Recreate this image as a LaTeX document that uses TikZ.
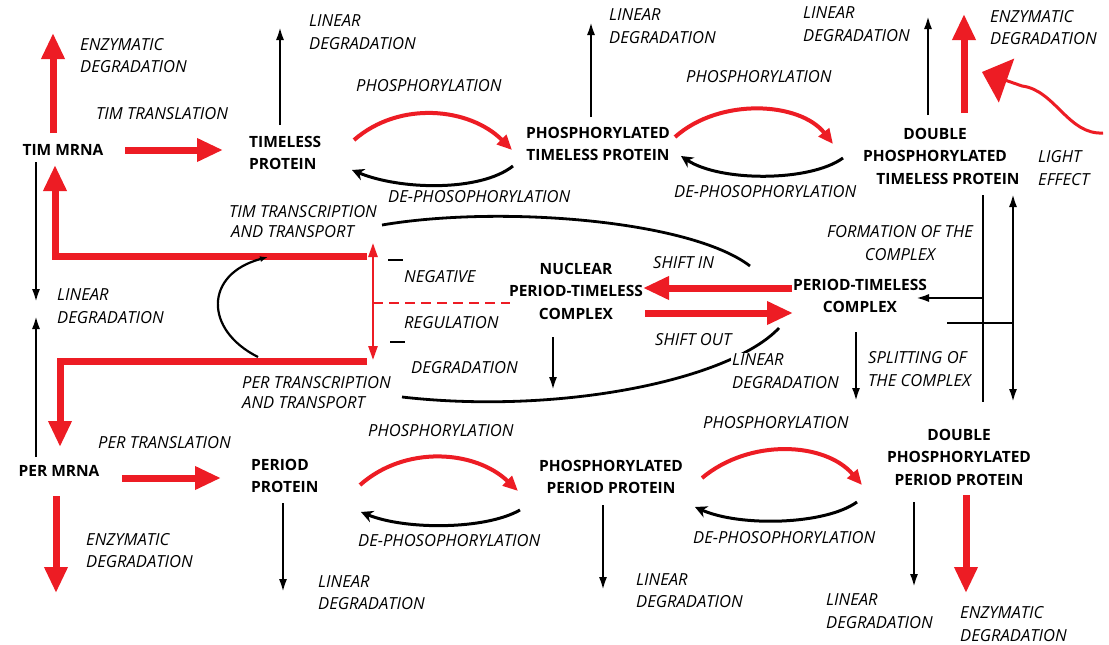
\documentclass[tikz,border=0pt]{standalone}
\usepackage{fontspec}
\setmainfont{Open Sans}
\usetikzlibrary{arrows.meta}
\definecolor{pred}{HTML}{ED1C24}
\begin{document}
\begin{tikzpicture}[x=1pt,y=-1pt,
 bnode/.style={font=\bfseries\fontsize{15.5}{22.5}\selectfont, inner sep=0pt, align=center},
 lab/.style={font=\itshape\fontsize{16.6}{22.5}\selectfont, inner sep=0pt, align=left, anchor=west},
 labt/.style={font=\itshape\fontsize{16.6}{19.5}\selectfont, inner sep=0pt, align=left, anchor=west},
 bigred/.style={draw=pred, line width=7pt, -{Triangle[length=26pt,width=22pt]}},
 thinarr/.style={draw=black, line width=2.8pt, -{Latex[length=14pt,width=8pt]}},
 phos/.style={draw=pred, line width=4pt, -{Triangle[length=15pt,width=13pt]}},
 dephos/.style={draw=black, line width=3pt, -{Stealth[length=12pt,width=12pt]}},
 plain/.style={draw=black, line width=2.8pt},
]
\useasboundingbox[fill=white] (0,0) rectangle (1109,645);

% ---------- main nodes ----------
\node[bnode] (timm) at (63,150) {TIM MRNA};
\node[bnode, align=left, anchor=west] (timp) at (249,153) {TIMELESS\\PROTEIN};
\node[bnode] (ptim) at (598,144) {PHOSPHORYLATED\\TIMELESS PROTEIN};
\node[bnode] (dptim) at (935,156) {DOUBLE\\PHOSPHORYLATED\\\hspace*{26pt}TIMELESS PROTEIN};
\node[bnode] (nuc) at (576,291) {NUCLEAR\\PERIOD-TIMELESS\\COMPLEX};
\node[bnode] (ptc) at (860,296) {PERIOD-TIMELESS\\COMPLEX};
\node[bnode] (perm) at (59,471) {PER MRNA};
\node[bnode, align=left, anchor=west] (perp) at (251,476) {PERIOD\\PROTEIN};
\node[bnode] (pper) at (611,477) {PHOSPHORYLATED\\PERIOD PROTEIN};
\node[bnode] (dpper) at (959,457) {DOUBLE\\PHOSPHORYLATED\\PERIOD PROTEIN};

% ---------- labels ----------
\node[lab] (enz1) at (80,55.5) {ENZYMATIC\\DEGRADATION};
\node[lab] (timtl) at (96,114) {TIM TRANSLATION};
\node[lab] (lin1) at (309,32) {LINEAR\\DEGRADATION};
\node[lab] (ph1) at (356,86) {PHOSPHORYLATION};
\node[lab] (deph1) at (388,197) {DE-PHOSOPHORYLATION};
\node[lab] (lin2) at (609,26) {LINEAR\\DEGRADATION};
\node[lab] (ph2) at (686,77) {PHOSPHORYLATION};
\node[lab] (deph2) at (674,192) {DE-PHOSOPHORYLATION};
\node[lab] (lin3) at (803,24) {LINEAR\\DEGRADATION};
\node[lab] (enz2) at (990,27.5) {ENZYMATIC\\DEGRADATION};
\node[lab] (light) at (1038,168) {LIGHT\\EFFECT};
\node[labt] (tt) at (229,221.5) {TIM TRANSCRIPTION\\\hspace*{2pt}AND TRANSPORT};
\node[lab] (neg) at (404,277) {NEGATIVE};
\node[lab] (reg) at (404,323) {REGULATION};
\node[lab] (degr) at (411,368) {DEGRADATION};
\node[lab] (shin) at (653,263) {SHIFT IN};
\node[lab] (shout) at (655,340) {SHIFT OUT};
\node[lab, align=center, anchor=center] (form) at (900,243) {FORMATION OF THE\\COMPLEX};
\node[lab] (split) at (868,369) {SPLITTING OF\\THE COMPLEX};
\node[lab] (lin5) at (57,306) {LINEAR\\DEGRADATION};
\node[labt] (pt) at (242,392.5) {PER TRANSCRIPTION\\AND TRANSPORT};
\node[lab] (pertl) at (98,443) {PER TRANSLATION};
\node[lab] (ph3) at (368,431) {PHOSPHORYLATION};
\node[lab] (deph3) at (358,541) {DE-PHOSOPHORYLATION};
\node[lab] (ph4) at (703,423) {PHOSPHORYLATION};
\node[lab] (deph4) at (693,538) {DE-PHOSOPHORYLATION};
\node[lab] (enz3) at (86,550.5) {ENZYMATIC\\DEGRADATION};
\node[lab] (lin6) at (318,592.5) {LINEAR\\DEGRADATION};
\node[lab] (lin7) at (636,590.5) {LINEAR\\DEGRADATION};
\node[lab] (lin8) at (826,611) {LINEAR\\DEGRADATION};
\node[lab] (enz4) at (960,624) {ENZYMATIC\\DEGRADATION};

% ---------- coordinates ----------
\coordinate (a1s) at (53,133);  \coordinate (a1e) at (53,33);
\coordinate (a2s) at (125,150); \coordinate (a2e) at (223,150);
\coordinate (tl0) at (367,256); \coordinate (tl1) at (55,256); \coordinate (tl2) at (55,165);
\coordinate (pl0) at (367,361); \coordinate (pl1) at (60,361); \coordinate (pl2) at (60,447);
\coordinate (a5s) at (122,478); \coordinate (a5e) at (221,478);
\coordinate (a6s) at (56,496);  \coordinate (a6e) at (56,593);
\coordinate (sis) at (792,288); \coordinate (sie) at (643,288);
\coordinate (sos) at (645,313); \coordinate (soe) at (793,313);
\coordinate (a7s) at (964,113); \coordinate (a7e) at (964,14);
\coordinate (a8s) at (966,495); \coordinate (a8e) at (966,593);
\coordinate (b1s) at (280,125); \coordinate (b1e) at (280,26);
\coordinate (b2s) at (591,117); \coordinate (b2e) at (591,21);
\coordinate (b3s) at (928,115); \coordinate (b3e) at (928,15);
\coordinate (l1s) at (36,162);  \coordinate (l1e) at (36,303);
\coordinate (l2s) at (36,457);  \coordinate (l2e) at (36,315);
\coordinate (nds) at (553,337); \coordinate (nde) at (553,391);
\coordinate (pds) at (856,332); \coordinate (pde) at (856,402);
\coordinate (fms) at (983,298); \coordinate (fme) at (915,298);
\coordinate (v1t) at (983,195); \coordinate (v1b) at (983,402);
\coordinate (sps) at (947,323); \coordinate (spe) at (1013,323);
\coordinate (v2t) at (1013,193); \coordinate (v2b) at (1013,403);
\coordinate (b4s) at (283,503); \coordinate (b4e) at (283,593);
\coordinate (b5s) at (603,505); \coordinate (b5e) at (603,591);
\coordinate (b6s) at (914,502); \coordinate (b6e) at (914,588);
\coordinate (rt) at (373,243);  \coordinate (rb) at (373,360);
\coordinate (rm) at (373,303);  \coordinate (rd) at (510,303);
\coordinate (m1s) at (388,260); \coordinate (m1e) at (403,260);
\coordinate (m2s) at (390,342); \coordinate (m2e) at (405,342);
\coordinate (cs) at (258,357);  \coordinate (ce) at (268,257);
\coordinate (us) at (382,225);  \coordinate (ue) at (750,266);
\coordinate (ls) at (402,397);  \coordinate (le) at (779,328);
\coordinate (lgs) at (1103,133); \coordinate (lgm) at (1022,86); \coordinate (lge) at (982,72);

% ---------- thick red arrows ----------
\draw[bigred] (a1s) -- (a1e);
\draw[bigred] (a2s) -- (a2e);
\draw[bigred] (tl0) -- (tl1) -- (tl2);
\draw[bigred] (pl0) -- (pl1) -- (pl2);
\draw[bigred] (a5s) -- (a5e);
\draw[bigred] (a6s) -- (a6e);
\draw[bigred] (sis) -- (sie);
\draw[bigred] (sos) -- (soe);
\draw[bigred] (a7s) -- (a7e);
\draw[bigred] (a8s) -- (a8e);

% ---------- thin black arrows ----------
\draw[thinarr] (b1s) -- (b1e);
\draw[thinarr] (b2s) -- (b2e);
\draw[thinarr] (b3s) -- (b3e);
\draw[thinarr] (l1s) -- (l1e);
\draw[thinarr] (l2s) -- (l2e);
\draw[thinarr] (nds) -- (nde);
\draw[thinarr] (pds) -- (pde);
\draw[thinarr] (fms) -- (fme);
\draw[plain] (v1t) -- (v1b);
\draw[plain] (sps) -- (spe);
\draw[plain, {Latex[length=14pt,width=8pt]}-{Latex[length=14pt,width=8pt]}] (v2t) -- (v2b);
\draw[thinarr] (b4s) -- (b4e);
\draw[thinarr] (b5s) -- (b5e);
\draw[thinarr] (b6s) -- (b6e);

% ---------- phosphorylation cycles ----------
\draw[phos] (354,140) .. controls (400,100) and (470,108) .. (512,150);
\draw[dephos] (513,166) .. controls (480,192) and (400,190) .. (352,170);
\draw[phos] (675,137) .. controls (720,97) and (800,102) .. (833,144);
\draw[dephos] (843,158) .. controls (810,182) and (720,182) .. (681,156);
\draw[phos] (360,485) .. controls (405,445) and (475,450) .. (518,491);
\draw[dephos] (520,510) .. controls (485,530) and (405,530) .. (361,512);
\draw[phos] (702,478) .. controls (750,438) and (825,442) .. (862,485);
\draw[dephos] (857,502) .. controls (825,525) and (740,527) .. (695,507);

% ---------- regulation ----------
\draw[draw=pred, line width=2.5pt, {Triangle[length=14pt,width=9pt]}-{Triangle[length=14pt,width=9pt]}] (rt) -- (rb);
\draw[draw=pred, line width=2.5pt, dash pattern=on 10pt off 6pt] (rm) -- (rd);
\draw[plain] (m1s) -- (m1e);
\draw[plain] (m2s) -- (m2e);
\draw[draw=black, line width=2.2pt, -{Latex[length=8pt,width=6pt]}] (cs) .. controls (204,330) and (204,274) .. (ce);
\draw[plain] (us) .. controls (500,205) and (690,220) .. (ue);
\draw[plain] (ls) .. controls (560,415) and (730,380) .. (le);
\node[lab, fill=white, inner sep=1pt] (lin4) at (731,371) {LINEAR\\DEGRADATION};

% ---------- light effect ----------
\draw[draw=pred, line width=3pt, -{Triangle[length=26pt,width=46pt]}] (lgs) .. controls (1068,135) and (1055,90) .. (lgm) -- (lge);
\end{tikzpicture}
\end{document}
